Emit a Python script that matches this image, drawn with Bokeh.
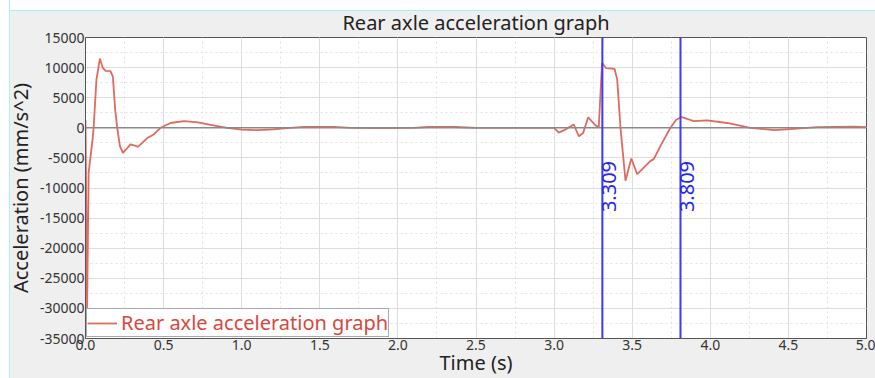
import math
from bokeh.plotting import figure
from bokeh.models import Span, Label, Legend, LegendItem, FixedTicker, NumeralTickFormatter
from bokeh.embed import file_html
from bokeh.resources import INLINE

# ---- data ----
time_s = [0.000, 0.010, 0.020, 0.045, 0.052, 0.070, 0.092, 0.110, 0.128, 0.160,
          0.175, 0.190, 0.203, 0.220, 0.239, 0.260, 0.288, 0.310, 0.335, 0.360,
          0.395, 0.437, 0.480, 0.544, 0.630, 0.720, 0.800, 0.907, 1.000, 1.100,
          1.200, 1.310, 1.400, 1.590, 1.700, 1.900, 2.100, 2.190, 2.370, 2.500,
          2.800, 3.000, 3.030, 3.070, 3.126, 3.158, 3.186, 3.218, 3.265, 3.286,
          3.307, 3.333, 3.387, 3.404, 3.425, 3.457, 3.494, 3.532, 3.574, 3.617,
          3.638, 3.681, 3.745, 3.780, 3.814, 3.850, 3.894, 3.980, 4.108, 4.257,
          4.410, 4.535, 4.684, 4.920, 5.000]
accel = [1300, -30500, -7500, -2000, 0, 8000, 11500, 10000, 9450, 9400,
         8500, 3000, 0, -3000, -4180, -3600, -2750, -2900, -3180, -2600,
         -1700, -1100, 0, 800, 1100, 900, 500, 0, -300, -400,
         -250, 0, 150, 150, 0, -30, 0, 130, 130, 0,
         0, 0, -800, -300, 550, -1400, -850, 1750, 400, 150,
         10800, 9900, 9800, 8000, 0, -8800, -5100, -7700, -6600, -5500,
         -5200, -3000, 0, 1300, 1800, 1500, 1100, 1250, 800, 0,
         -400, -170, 100, 200, 100]
marker_times = [3.309, 3.809]
x_ticks = [0.0, 0.5, 1.0, 1.5, 2.0, 2.5, 3.0, 3.5, 4.0, 4.5, 5.0]
y_ticks = [-35000, -30000, -25000, -20000, -15000, -10000, -5000, 0, 5000, 10000, 15000]
series_name = "Rear axle acceleration graph"

FONT = "Noto Sans"
RED = "#e06a5e"
BG = "#efefef"
CYAN = "#a8f2f2"

p = figure(width=875, height=378, output_backend="svg", toolbar_location=None,
           x_range=(0, 5), y_range=(-35000, 15000), title=series_name,
           min_border_left=85, min_border_right=9, min_border_top=37, min_border_bottom=38)
p.border_fill_alpha = 0
p.styles = {"background": (
    f"linear-gradient(to right, #ffffff 0px, #ffffff 9px, {CYAN} 9px, {CYAN} 10px, rgba(0,0,0,0) 10px), "
    f"linear-gradient(to bottom, #ffffff 0px, #ffffff 10px, {CYAN} 10px, {CYAN} 11px, {BG} 11px)")}
p.background_fill_color = "white"
p.outline_line_color = "#555555"
p.outline_line_width = 1

p.title.text_font = FONT
p.title.text_font_size = "20px"
p.title.text_font_style = "normal"
p.title.text_color = "#222222"
p.title.align = "center"
p.title.standoff = 4

p.xaxis.ticker = FixedTicker(ticks=x_ticks, minor_ticks=[i * 0.25 for i in range(21)])
p.yaxis.ticker = FixedTicker(ticks=y_ticks, minor_ticks=[-35000 + i * 2500 for i in range(21)])
p.xaxis.formatter = NumeralTickFormatter(format="0.0")
p.yaxis.formatter = NumeralTickFormatter(format="0")
for ax in (p.xaxis, p.yaxis):
    ax.major_tick_out = 0
    ax.major_tick_in = 0
    ax.minor_tick_out = 0
    ax.minor_tick_in = 0
    ax.axis_line_color = "#555555"
    ax.major_label_text_font = FONT
    ax.major_label_text_font_size = "14px"
    ax.major_label_text_color = "#333333"
    ax.major_label_standoff = 1
    ax.axis_label_text_font = FONT
    ax.axis_label_text_font_size = "20px"
    ax.axis_label_text_font_style = "normal"
    ax.axis_label_text_color = "#222222"
p.xaxis.axis_label_standoff = -4
p.yaxis.axis_label_standoff = 3
p.xaxis.axis_label = "Time (s)"
p.yaxis.axis_label = "Acceleration (mm/s^2)"

for g in (p.xgrid, p.ygrid):
    g.grid_line_color = "#dedede"
    g.grid_line_width = 1
    g.minor_grid_line_color = "#e2e2e2"
    g.minor_grid_line_dash = "2 3"

p.add_layout(Span(location=0, dimension="width", line_color="#8a8a8a", line_width=1.5))

line = p.line(time_s, accel, line_color=RED, line_width=1.8)

for t in marker_times:
    p.add_layout(Span(location=t, dimension="height", line_color="#3a3aff", line_width=2))
    p.add_layout(Label(x=t, y=-14000, text=f"{t:.3f}", angle=math.pi / 2,
                       text_align="left", text_baseline="top", x_offset=0,
                       text_font=FONT, text_font_size="20px", text_color="#2626f0"))

legend = Legend(items=[LegendItem(label=series_name, renderers=[line])],
                location="bottom_left", margin=1, padding=0, spacing=0,
                border_line_color="#555555", border_line_width=1,
                background_fill_color="white", background_fill_alpha=1,
                label_text_font=FONT, label_text_font_size="20px", label_text_color="#d9473c",
                glyph_width=30, label_standoff=4)
p.add_layout(legend)

open("out.html", "w").write(file_html(p, INLINE))
